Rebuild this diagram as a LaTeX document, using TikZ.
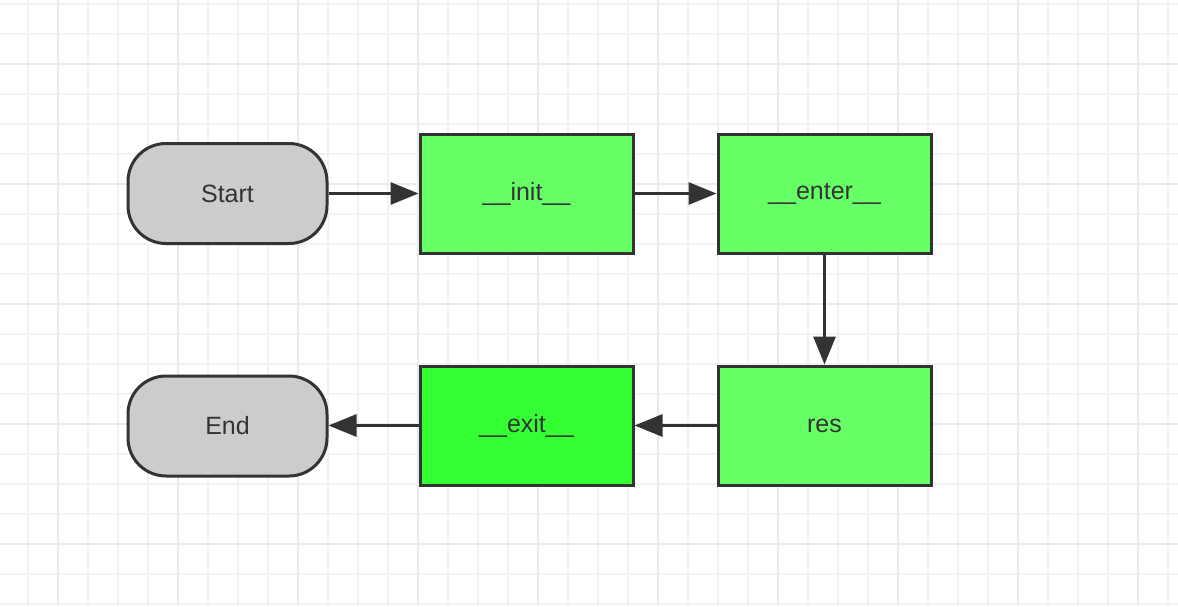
\documentclass[tikz,border=0pt]{standalone}
\usepackage{fontspec}
\setmainfont{Liberation Sans}
\usetikzlibrary{arrows.meta}
\definecolor{gridminor}{HTML}{F2F2F2}
\definecolor{gridmajor}{HTML}{EAEAEA}
\definecolor{boxgreen}{HTML}{66FF66}
\definecolor{exitgreen}{HTML}{33FF33}
\definecolor{termgray}{HTML}{CCCCCC}
\definecolor{ink}{HTML}{333333}
\tikzset{
  procbox/.style={draw=ink, line width=3pt, minimum width=213pt, minimum height=119pt, inner sep=0pt, font=\fontsize{25}{30}\selectfont, text=ink},
  termbox/.style={draw=ink, line width=3pt, fill=termgray, rounded corners=38pt, minimum width=199pt, minimum height=100pt, inner sep=0pt, font=\fontsize{25}{30}\selectfont, text=ink},
  conn/.style={draw=ink, line width=3pt, -{Triangle[length=28pt,width=22pt]}}
}
\begin{document}
\begin{tikzpicture}[x=1pt,y=-1pt]
\useasboundingbox (0,0) rectangle (1178,606);
\fill[white] (0,0) rectangle (1178,606);
% minor grid
\foreach \gx in {28,58,...,1178} \draw[gridminor, line width=2pt] (\gx,0) -- (\gx,606);
\foreach \gy in {4,34,...,606} \draw[gridminor, line width=2pt] (0,\gy) -- (1178,\gy);
% major grid
\foreach \gx in {58,178,...,1178} \draw[gridmajor, line width=2.5pt] (\gx,0) -- (\gx,606);
\foreach \gy in {64,184,...,606} \draw[gridmajor, line width=2.5pt] (0,\gy) -- (1178,\gy);
% nodes
\node[termbox] (start) at (227.5,193.5) {Start};
\node[procbox, fill=boxgreen] (init) at (526.5,193.5) {\_\_init\_\_};
\node[procbox, fill=boxgreen] (enter) at (824.5,193.5) {\_\_enter\_\_};
\node[procbox, fill=boxgreen] (res) at (824.5,425.5) {res};
\node[procbox, fill=exitgreen] (exit) at (526.5,425.5) {\_\_exit\_\_};
\node[termbox] (end) at (227.5,426) {End};
% connectors
\draw[conn] (start.east) -- (init.west);
\draw[conn] (init.east) -- (enter.west);
\draw[conn] (enter.south) -- (res.north);
\draw[conn] (res.west) -- (exit.east);
\draw[conn] (exit.west) -- (exit.west -| end.east);
\end{tikzpicture}
\end{document}
